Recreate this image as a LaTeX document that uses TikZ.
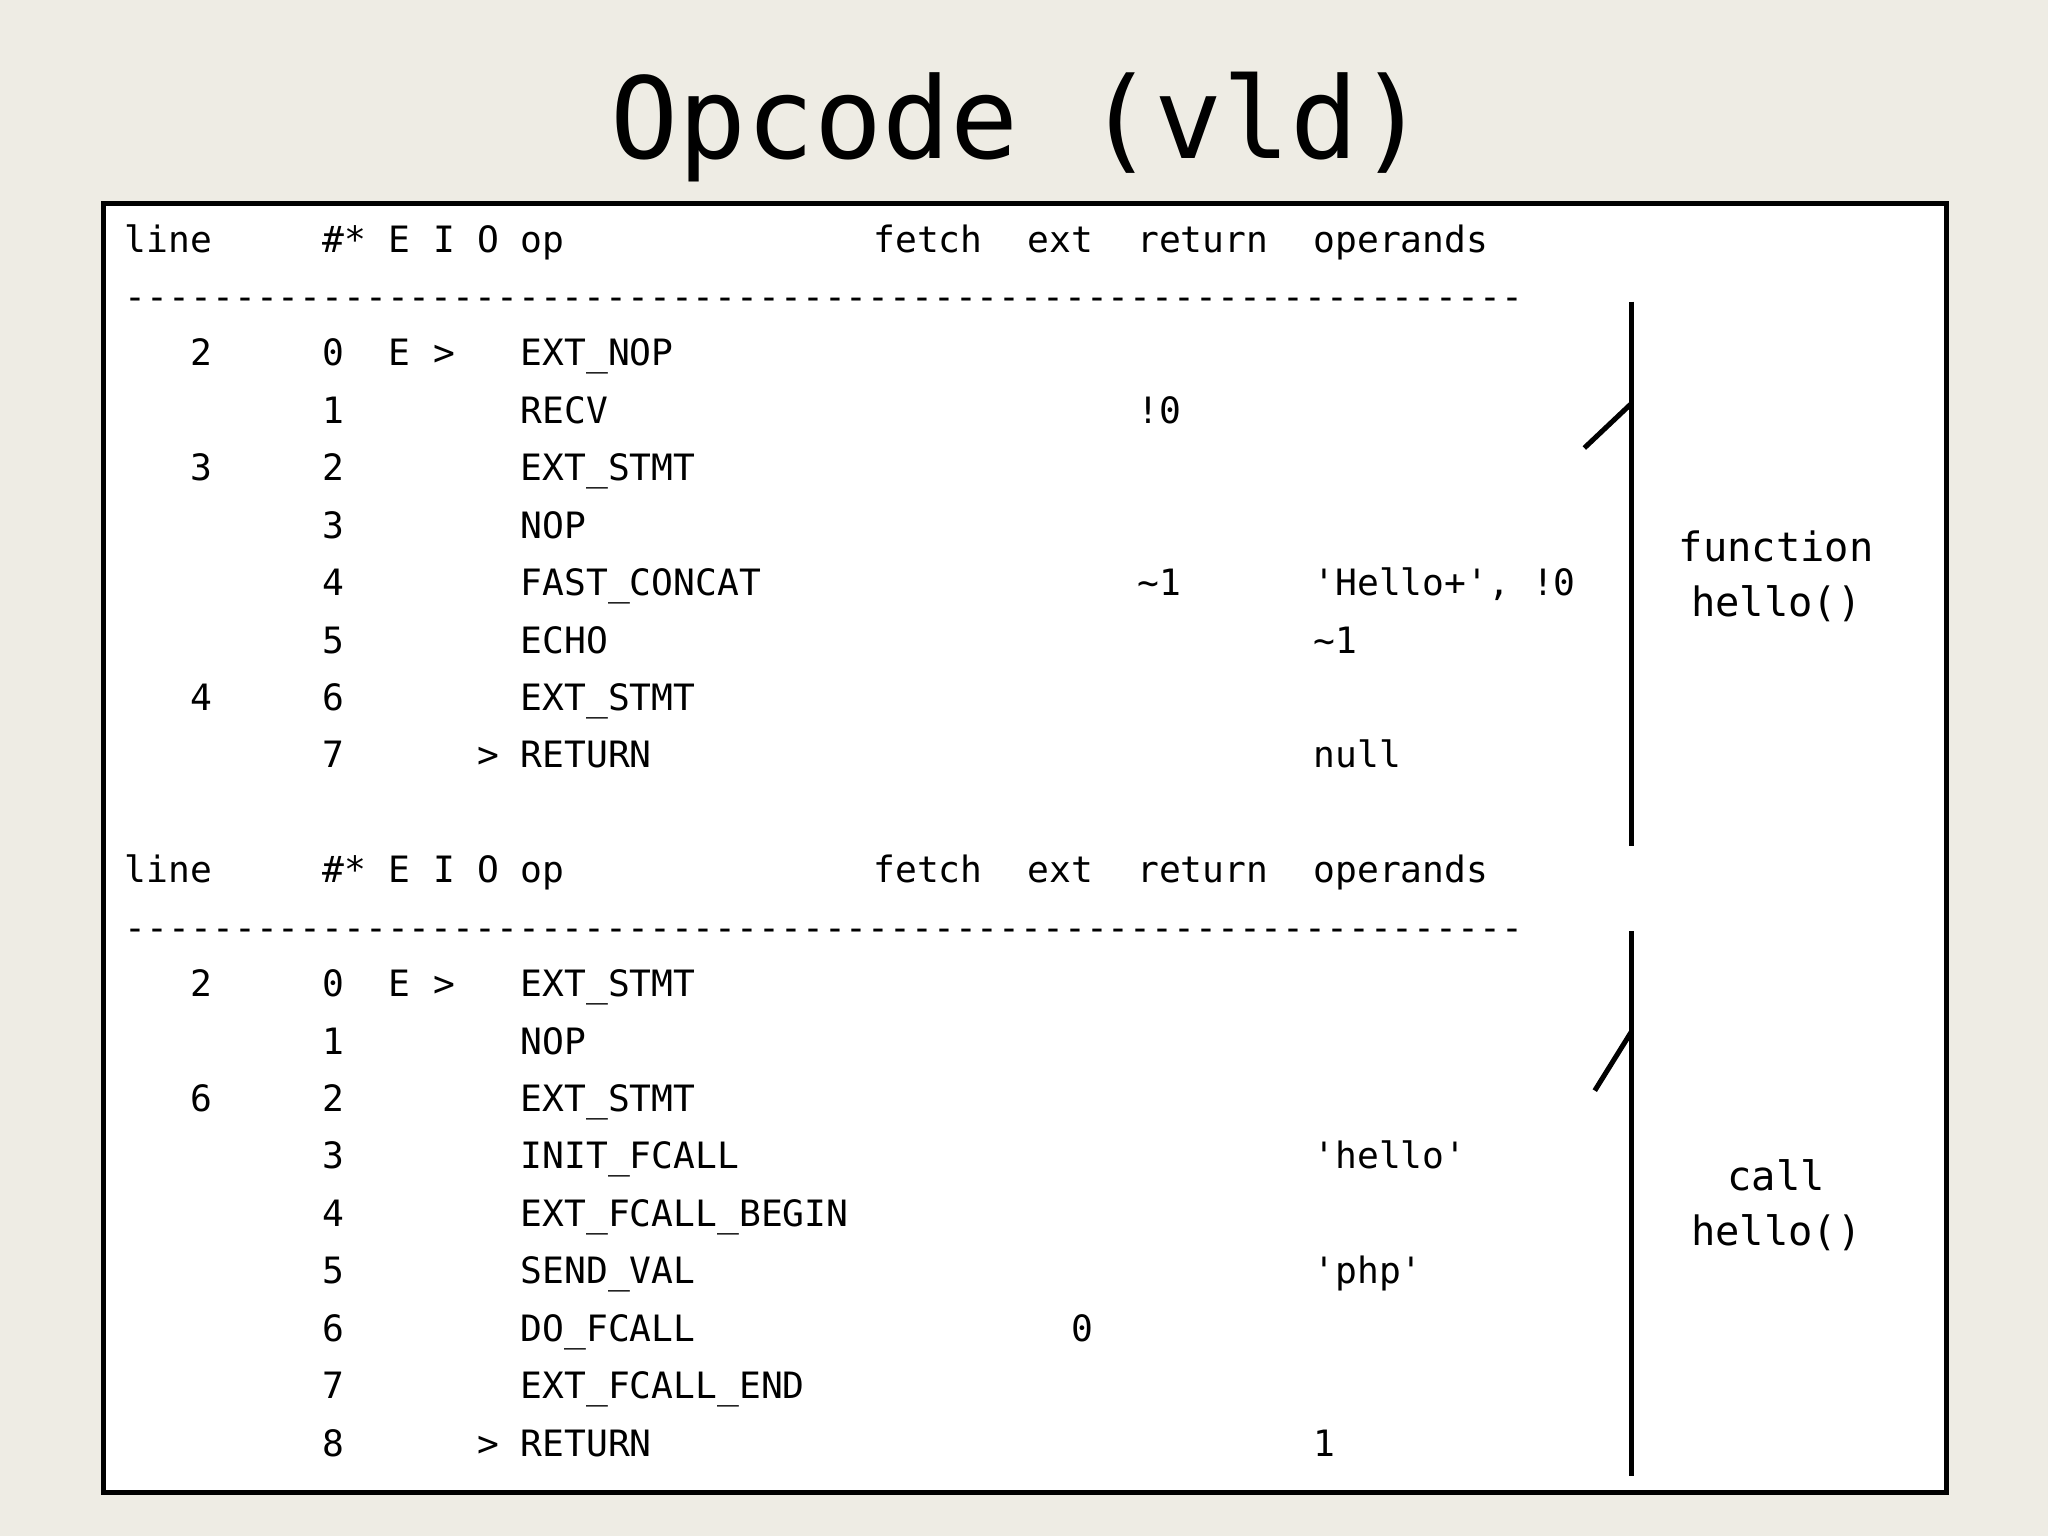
\documentclass[tikz,border=0pt]{standalone}
\usepackage{fontspec}
\setmonofont{DejaVu Sans Mono}
\definecolor{bg}{HTML}{EEECE4}
\begin{document}
\begin{tikzpicture}[x=0.01cm,y=-0.01cm,
  cell/.style={anchor=base west,inner sep=0pt,font=\ttfamily\fontsize{7.9}{9}\selectfont},
  lbl/.style={align=center,font=\ttfamily\fontsize{8.8}{12}\selectfont},
  brace/.style={line width=1.1pt}]
\fill[bg] (0,0) rectangle (1568,1176);
\useasboundingbox (0,0) rectangle (1568,1176);
\node[font=\ttfamily\fontsize{24.6}{28}\selectfont] (title) at (780,97) {Opcode (vld)};
\draw[fill=white,line width=1.1pt] (79,156) rectangle (1490,1143);
\newcommand{\cl}[3]{\node[cell] at (#1,#2+10) {#3};}
\newcommand{\hdr}[1]{%
 \cl{95}{#1}{line}\cl{246}{#1}{\#*}\cl{297}{#1}{E}\cl{331}{#1}{I}\cl{365}{#1}{O}\cl{398}{#1}{op}%
 \cl{668}{#1}{fetch}\cl{786}{#1}{ext}\cl{870}{#1}{return}\cl{1005}{#1}{operands}%
 \cl{95}{#1+44}{----------------------------------------------------------------}}
\hdr{183}
\cl{145}{270}{2}\cl{246}{270}{0}\cl{297}{270}{E}\cl{331}{270}{>}\cl{398}{270}{EXT\_NOP}
\cl{246}{314}{1}\cl{398}{314}{RECV}\cl{870}{314}{!0}
\cl{145}{358}{3}\cl{246}{358}{2}\cl{398}{358}{EXT\_STMT}
\cl{246}{402}{3}\cl{398}{402}{NOP}
\cl{246}{446}{4}\cl{398}{446}{FAST\_CONCAT}\cl{870}{446}{\textasciitilde1}\cl{1005}{446}{'Hello+', !0}
\cl{246}{490}{5}\cl{398}{490}{ECHO}\cl{1005}{490}{\textasciitilde1}
\cl{145}{534}{4}\cl{246}{534}{6}\cl{398}{534}{EXT\_STMT}
\cl{246}{578}{7}\cl{365}{578}{>}\cl{398}{578}{RETURN}\cl{1005}{578}{null}
\hdr{666}
\cl{145}{753}{2}\cl{246}{753}{0}\cl{297}{753}{E}\cl{331}{753}{>}\cl{398}{753}{EXT\_STMT}
\cl{246}{797}{1}\cl{398}{797}{NOP}
\cl{145}{841}{6}\cl{246}{841}{2}\cl{398}{841}{EXT\_STMT}
\cl{246}{885}{3}\cl{398}{885}{INIT\_FCALL}\cl{1005}{885}{'hello'}
\cl{246}{929}{4}\cl{398}{929}{EXT\_FCALL\_BEGIN}
\cl{246}{973}{5}\cl{398}{973}{SEND\_VAL}\cl{1005}{973}{'php'}
\cl{246}{1017}{6}\cl{398}{1017}{DO\_FCALL}\cl{820}{1017}{0}
\cl{246}{1061}{7}\cl{398}{1061}{EXT\_FCALL\_END}
\cl{246}{1105}{8}\cl{365}{1105}{>}\cl{398}{1105}{RETURN}\cl{1005}{1105}{1}
\coordinate (a1) at (1249,231); \coordinate (a2) at (1249,648);
\coordinate (a3) at (1249,309); \coordinate (a4) at (1213,343);
\draw[brace] (a1) -- (a2); \draw[brace] (a3) -- (a4);
\coordinate (b1) at (1249,713); \coordinate (b2) at (1249,1130);
\coordinate (b3) at (1249,790); \coordinate (b4) at (1221,835);
\draw[brace] (b1) -- (b2); \draw[brace] (b3) -- (b4);
\node[lbl] (f) at (1360,441) {function\\hello()};
\node[lbl] (c) at (1360,923) {call\\hello()};
\end{tikzpicture}
\end{document}
